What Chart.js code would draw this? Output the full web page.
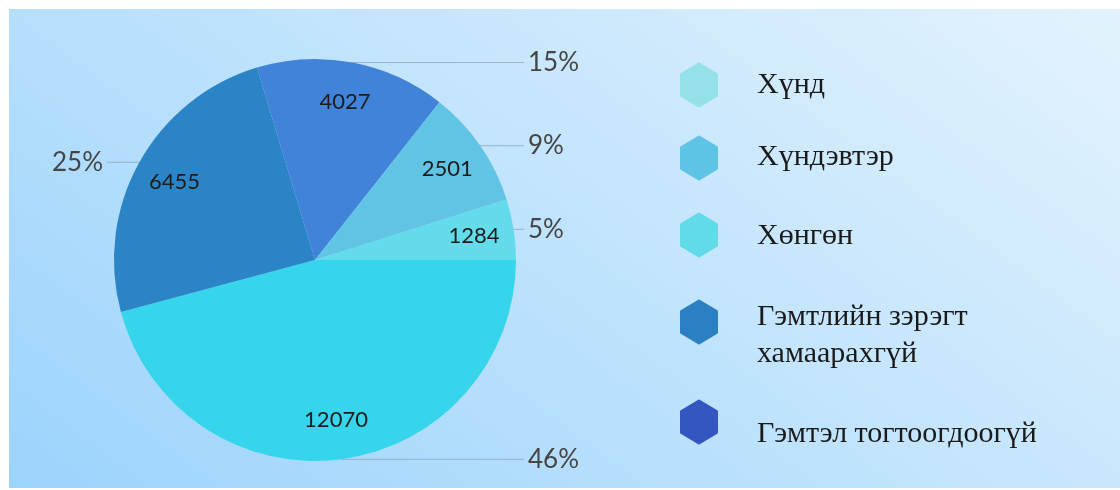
<!DOCTYPE html>
<html>
<head>
<meta charset="utf-8">
<script src="https://cdn.jsdelivr.net/npm/chart.js@4.4.1/dist/chart.umd.min.js"></script>
<style>
  html, body { margin: 0; padding: 0; background: #fff; }
  canvas { display: block; }
</style>
</head>
<body>
<canvas id="chart" width="1120" height="490"></canvas>
<script>
// legend order = slices counterclockwise from 3 o'clock
const categories = ['Хүнд', 'Хүндэвтэр', 'Хөнгөн', 'Гэмтлийн зэрэгт хамаарахгүй', 'Гэмтэл тогтоогдоогүй'];
const values = [1284, 2501, 4027, 6455, 12070];
const sliceColors = ['#64dbea', '#62c4e5', '#4183d8', '#2b84c5', '#37d5ec'];
const legendColors = ['#94e1ea', '#5ec3e5', '#62dbe9', '#2b80c3', '#3356c0'];

// legend layout (hexagon centre / first text baseline per row)
const legendHexY = [85, 158, 235, 322, 422];
const legendTextY = [93, 165, 244, 325, 442];

const backdrop = {
  id: 'backdrop',
  beforeDraw(chart) {
    let ctx = chart.ctx;
    ctx.save();
    ctx.fillStyle = '#ffffff';
    ctx.fillRect(0, 0, chart.width, chart.height);
    let g = ctx.createLinearGradient(20, 480, 663, -382);
    g.addColorStop(0, '#9dd4fc');
    g.addColorStop(1, '#e6f4fd');
    ctx.fillStyle = g;
    ctx.fillRect(9, 9, chart.width - 9, chart.height - 11);
    ctx.restore();
  }
};

const sliceLabels = {
  id: 'sliceLabels',
  afterDatasetsDraw(chart) {
    let ctx = chart.ctx;
    let meta = chart.getDatasetMeta(0);
    let data = chart.data.datasets[0].data;
    let total = data.reduce((a, b) => a + b, 0);

    ctx.save();
    meta.data.forEach((arc, i) => {
      let { x, y, startAngle, endAngle, outerRadius } = arc.getProps(['x', 'y', 'startAngle', 'endAngle', 'outerRadius'], true);
      let mid = (startAngle + endAngle) / 2;

      // value inside the slice
      ctx.font = '22px Lato';
      ctx.fillStyle = '#1c1c1c';
      ctx.textAlign = 'center';
      ctx.textBaseline = 'middle';
      ctx.fillText(String(data[i]), x + Math.cos(mid) * outerRadius * 0.8, y + Math.sin(mid) * outerRadius * 0.8);

      // leader line + percent outside
      let ex = x + Math.cos(mid) * outerRadius;
      let ey = y + Math.sin(mid) * outerRadius;
      let right = Math.cos(mid) >= 0;
      let lx = right ? x + outerRadius + 8 : x - outerRadius - 7;

      ctx.strokeStyle = 'rgba(120,140,155,0.55)';
      ctx.lineWidth = 1;
      ctx.beginPath();
      ctx.moveTo(ex, ey);
      ctx.lineTo(lx, ey);
      ctx.stroke();

      ctx.font = '26px Lato';
      ctx.fillStyle = '#454545';
      ctx.textAlign = right ? 'left' : 'right';
      ctx.fillText(Math.round(data[i] / total * 100) + '%', right ? lx + 4 : lx - 4, ey);
    });
    ctx.restore();
  }
};

function hexagon(ctx, cx, cy, color) {
  ctx.save();
  ctx.fillStyle = color;
  ctx.strokeStyle = color;
  ctx.lineWidth = 3;
  ctx.lineJoin = 'round';
  ctx.beginPath();
  ctx.moveTo(cx, cy - 21);
  ctx.lineTo(cx + 17.5, cy - 10.5);
  ctx.lineTo(cx + 17.5, cy + 10.5);
  ctx.lineTo(cx, cy + 21);
  ctx.lineTo(cx - 17.5, cy + 10.5);
  ctx.lineTo(cx - 17.5, cy - 10.5);
  ctx.closePath();
  ctx.fill();
  ctx.stroke();
  ctx.restore();
}

function wrap(ctx, text, maxWidth) {
  let lines = [];
  let line = '';
  for (let word of text.split(' ')) {
    let next = line ? line + ' ' + word : word;
    if (line && ctx.measureText(next).width > maxWidth) {
      lines.push(line);
      line = word;
    } else {
      line = next;
    }
  }
  lines.push(line);
  return lines;
}

const hexLegend = {
  id: 'hexLegend',
  afterDraw(chart) {
    let ctx = chart.ctx;
    ctx.save();
    ctx.font = '30px "Liberation Serif"';
    ctx.fillStyle = '#1a1a1a';
    ctx.textAlign = 'left';
    ctx.textBaseline = 'alphabetic';
    categories.forEach((name, i) => {
      hexagon(ctx, 699, legendHexY[i], legendColors[i]);
      wrap(ctx, name, 300).forEach((line, k) => {
        ctx.fillText(line, 757, legendTextY[i] + k * 37);
      });
    });
    ctx.restore();
  }
};

// Chart.js draws clockwise, so feed the slices reversed
let chart = new Chart(document.getElementById('chart'), {
  type: 'pie',
  data: {
    labels: categories.slice().reverse(),
    datasets: [{
      data: values.slice().reverse(),
      backgroundColor: sliceColors.slice().reverse(),
      borderWidth: 0,
    }]
  },
  options: {
    responsive: false,
    animation: false,
    rotation: 90,
    layout: { padding: { left: 114, right: 604, top: 59, bottom: 29 } },
    plugins: {
      legend: { display: false },
      tooltip: { enabled: false },
    }
  },
  plugins: [backdrop, sliceLabels, hexLegend]
});
</script>
</body>
</html>
